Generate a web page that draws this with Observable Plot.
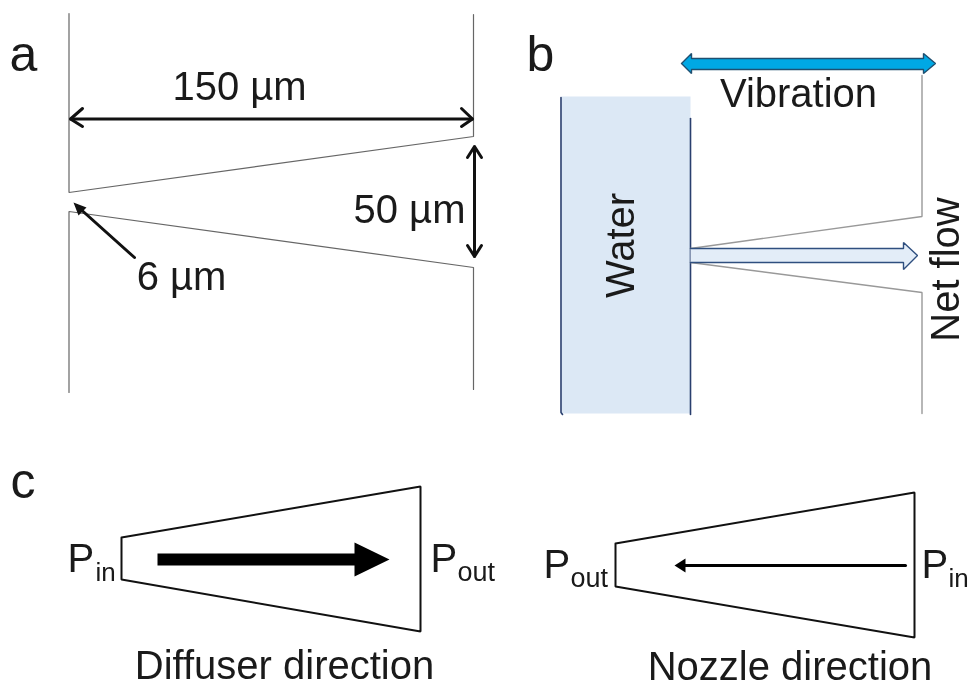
<!DOCTYPE html>
<html><head><meta charset="utf-8">
<script src="https://cdn.jsdelivr.net/npm/d3@7"></script>
<script src="https://cdn.jsdelivr.net/npm/@observablehq/plot@0.6"></script>
<style>html,body{margin:0;padding:0;background:#fff}svg{display:block}</style>
</head><body>
<script>
// Panel a: channel walls
const aTopWall = [[68.5,13],[68.5,192],[473,136],[473,14]];
const aBottomWall = [[68.5,392],[68.5,211],[473,267],[473,389]];
// Dimension arrows: shaft and open heads
const aWidthArrow = [[70,118.5],[472,118.5]];
const aWidthHeadL = [[82,108],[70,118.5],[82,126]];
const aWidthHeadR = [[461,108],[472,118.5],[461,126]];
const aHeightArrow = [[474,146],[474,256]];
const aHeightHeadT = [[467,157],[474,146],[481,157]];
const aHeightHeadB = [[467,245],[474,256],[481,245]];
const aThroatArrow = [[134,257],[76,205]];
const aThroatHead = [[73,202],[86,207],[78,215]];
// Panel b
const bWater = [[561,96],[690,96],[690,413],[561,413]];
const bWaterLeft = [[560.5,97],[560.5,412],[562,414]];
const bWaterRight = [[690,118],[690,414]];
const bWallTop = [[921.5,75],[921.5,216],[690,248]];
const bWallBottom = [[690,262],[921.5,292],[921.5,413]];
const bNetFlow = [[690,248],[903,248],[903,242],[917,255],[903,269],[903,262],[690,262]];
const bVibration = [[681,63],[691,53],[691,58],[923,58],[923,53],[935,63],[923,73],[923,69],[691,69],[691,73],[681,63]];
// Panel c
const cDiffuser = [[121,537],[420,486],[420,631],[121,579],[121,537]];
const cDiffuserArrow = [[157,553],[354,553],[354,542],[389,559],[354,576],[354,565],[157,565],[157,553]];
const cNozzle = [[615,543],[914,492],[914,637],[615,586],[615,543]];
const cNozzleShaft = [[905,565],[682,565]];
const cNozzleHead = [[674,565],[685,558],[685,572],[674,565]];
// Labels
const labels = [
  {t:"a",x:9,y:54,s:50,a:"start"},
  {t:"b",x:526,y:54,s:50,a:"start"},
  {t:"c",x:10,y:481,s:50,a:"start"},
  {t:"150 µm",x:239,y:87,s:40,a:"middle"},
  {t:"50 µm",x:409,y:210,s:40,a:"middle"},
  {t:"6 µm",x:181,y:277,s:40,a:"middle"},
  {t:"Vibration",x:798,y:94,s:40,a:"middle"},
  {t:"P",x:67,y:559,s:40,a:"start"},
  {t:"in",x:95,y:572,s:26,a:"start"},
  {t:"P",x:430,y:559,s:40,a:"start"},
  {t:"out",x:457,y:572,s:27,a:"start"},
  {t:"Diffuser direction",x:284,y:666,s:40,a:"middle"},
  {t:"P",x:543,y:565,s:40,a:"start"},
  {t:"out",x:570,y:578,s:27,a:"start"},
  {t:"P",x:921,y:565,s:40,a:"start"},
  {t:"in",x:948,y:578,s:26,a:"start"},
  {t:"Nozzle direction",x:789.5,y:666.5,s:40,a:"middle"}
];
const rotatedLabels = [
  {t:"Water",x:621,y:245,s:40},
  {t:"Net flow",x:946,y:269,s:40}
];
const px = d => d[0], py = d => d[1];
const path = (pts, o) => Plot.line(pts, {x: px, y: py, strokeLinejoin: "miter", ...o});
const thin = {stroke: "#666", strokeWidth: 1.2};
const black = {stroke: "#111", strokeWidth: 2};
const dim = {stroke: "#111", strokeWidth: 3};
const plot = Plot.plot({
  width: 970, height: 688, margin: 0,
  style: {background: "#fff", fontFamily: "'Liberation Sans', Arial, sans-serif", filter: "blur(0.4px)"},
  x: {domain: [0, 970], range: [0, 970], axis: null},
  y: {domain: [0, 688], range: [0, 688], axis: null},
  marks: [
    path(aTopWall, thin), path(aBottomWall, thin),
    path(aWidthArrow, dim), path(aWidthHeadL, dim), path(aWidthHeadR, dim),
    path(aHeightArrow, dim), path(aHeightHeadT, dim), path(aHeightHeadB, dim),
    path(aThroatArrow, dim),
    path(aThroatHead, {fill:"#111", stroke:"none"}),
    path(bWater, {fill:"#dce8f5", stroke:"none"}),
    path(bWaterLeft, {stroke:"#2a3f6e", strokeWidth:1.6}),
    path(bWaterRight, {stroke:"#2a3f6e", strokeWidth:1.6}),
    path(bWallTop, {stroke:"#999", strokeWidth:1.4}),
    path(bWallBottom, {stroke:"#999", strokeWidth:1.4}),
    path(bNetFlow, {fill:"#e3edf8", stroke:"#2f4f7f", strokeWidth:1.4}),
    path(bVibration, {fill:"#00a8e4", stroke:"#1f4f70", strokeWidth:1.4}),
    path(cDiffuser, black),
    path(cDiffuserArrow, {fill:"#000", stroke:"none"}),
    path(cNozzle, black),
    path(cNozzleShaft, {stroke:"#000", strokeWidth:3}),
    path(cNozzleHead, {fill:"#000", stroke:"none"}),
    Plot.text(labels, {x:"x", y:"y", text:"t", fontSize:"s", textAnchor:"start", lineAnchor:"middle", fill:"#1a1a1a", filter:d=>d.a==="start"}),
    Plot.text(labels, {x:"x", y:"y", text:"t", fontSize:"s", textAnchor:"middle", lineAnchor:"middle", fill:"#1a1a1a", filter:d=>d.a==="middle"}),
    Plot.text(rotatedLabels, {x:"x", y:"y", text:"t", fontSize:"s", rotate:-90, textAnchor:"middle", lineAnchor:"middle", fill:"#1a1a1a"})
  ]
});
document.body.appendChild(plot);
</script>
</body></html>
